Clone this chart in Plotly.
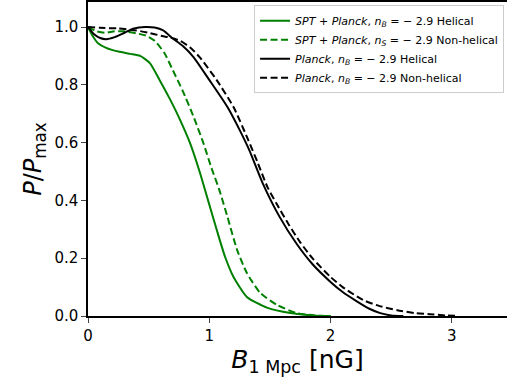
import plotly.graph_objects as go

# SPT + Planck, helical
spt_h_x = [0, 0.04, 0.08, 0.15, 0.25, 0.35, 0.43, 0.51, 0.59, 0.68, 0.76, 0.84, 0.92, 0.99, 1.06, 1.13, 1.2, 1.31, 1.48, 1.67, 1.85, 2.0]
spt_h_y = [1.0, 0.968, 0.945, 0.928, 0.915, 0.907, 0.9, 0.875, 0.817, 0.747, 0.678, 0.6, 0.5, 0.4, 0.3, 0.205, 0.135, 0.066, 0.028, 0.01, 0.002, 0.0]
# SPT + Planck, non-helical
spt_nh_x = [0, 0.07, 0.14, 0.22, 0.3, 0.4, 0.48, 0.55, 0.63, 0.7, 0.78, 0.87, 0.95, 1.02, 1.08, 1.15, 1.23, 1.31, 1.42, 1.56, 1.72, 1.87, 2.0]
spt_nh_y = [1.0, 0.985, 0.98, 0.985, 0.985, 0.978, 0.97, 0.952, 0.91, 0.85, 0.78, 0.69, 0.6, 0.51, 0.44, 0.343, 0.228, 0.149, 0.08, 0.038, 0.01, 0.002, 0.0]
# Planck, helical
pl_h_x = [0, 0.05, 0.1, 0.15, 0.22, 0.3, 0.38, 0.47, 0.55, 0.62, 0.7, 0.78, 0.87, 1.0, 1.15, 1.25, 1.33, 1.44, 1.58, 1.72, 1.85, 2.0, 2.1, 2.22, 2.32, 2.41, 2.5, 2.6]
pl_h_y = [1.0, 0.975, 0.962, 0.958, 0.965, 0.98, 0.995, 1.0, 0.998, 0.988, 0.96, 0.935, 0.896, 0.817, 0.723, 0.644, 0.574, 0.46, 0.343, 0.25, 0.18, 0.118, 0.083, 0.05, 0.025, 0.01, 0.002, 0.0]
# Planck, non-helical
pl_nh_x = [0, 0.1, 0.25, 0.4, 0.5, 0.6, 0.68, 0.76, 0.84, 0.92, 1.06, 1.2, 1.32, 1.4, 1.48, 1.56, 1.65, 1.75, 1.85, 2.0, 2.1, 2.27, 2.4, 2.55, 2.7, 2.82, 2.95, 3.05]
pl_nh_y = [1.0, 0.997, 0.995, 0.988, 0.98, 0.97, 0.963, 0.952, 0.93, 0.896, 0.817, 0.723, 0.61, 0.53, 0.446, 0.385, 0.32, 0.255, 0.2, 0.135, 0.1, 0.055, 0.035, 0.02, 0.01, 0.006, 0.002, 0.0]

names = [
    "<i>SPT</i> + <i>Planck</i>, <i>n</i><sub><i>B</i></sub> = − 2.9 Helical",
    "<i>SPT</i> + <i>Planck</i>, <i>n</i><sub><i>S</i></sub> = − 2.9 Non-helical",
    "<i>Planck</i>, <i>n</i><sub><i>B</i></sub> = − 2.9 Helical",
    "<i>Planck</i>, <i>n</i><sub><i>B</i></sub> = − 2.9 Non-helical",
]

series = [
    (spt_h_x, spt_h_y, "#008000", "solid"),
    (spt_nh_x, spt_nh_y, "#008000", "7px,3.5px"),
    (pl_h_x, pl_h_y, "black", "solid"),
    (pl_nh_x, pl_nh_y, "black", "7px,3.5px"),
]

fig = go.Figure()
for (x, y, c, d), n in zip(series, names):
    fig.add_trace(go.Scatter(x=x, y=y, mode="lines", name=n,
                             line=dict(color=c, width=2, dash=d, shape="spline", smoothing=0.6)))

fig.update_layout(
    width=507, height=392,
    margin=dict(l=88, r=0, t=2, b=76, autoexpand=False),
    plot_bgcolor="white", paper_bgcolor="white",
    font=dict(family="DejaVu Sans", color="black", size=15),
    showlegend=True,
    legend=dict(x=0.993, y=0.99, xanchor="right", yanchor="top",
                bgcolor="rgba(255,255,255,0.8)", bordercolor="#cccccc", borderwidth=1,
                font=dict(size=11), tracegroupgap=0, itemwidth=30),
)
fig.update_xaxes(range=[0, 3.455], tickvals=[0, 1, 2, 3], ticks="outside", ticklen=5, tickwidth=1.2,
                 automargin=False,
                 showline=True, linecolor="black", linewidth=1.5, mirror=True, showgrid=False, zeroline=False,
                 title=dict(text="<i>B</i><sub>1 Mpc</sub> [nG]", font=dict(size=25), standoff=4))
fig.update_yaxes(range=[0, 1.0865], tickvals=[0, 0.2, 0.4, 0.6, 0.8, 1.0], tickformat=".1f",
                 ticks="outside", ticklen=5, tickwidth=1.2, automargin=False,
                 showline=True, linecolor="black", linewidth=1.5, mirror=False, showgrid=False, zeroline=False,
                 title=dict(text="<i>P</i>/<i>P</i><sub>max</sub>", font=dict(size=24), standoff=6))

fig.write_html("out.html", config={"displayModeBar": False},
               post_script="document.body.style.margin='0';document.body.style.padding='0';")
